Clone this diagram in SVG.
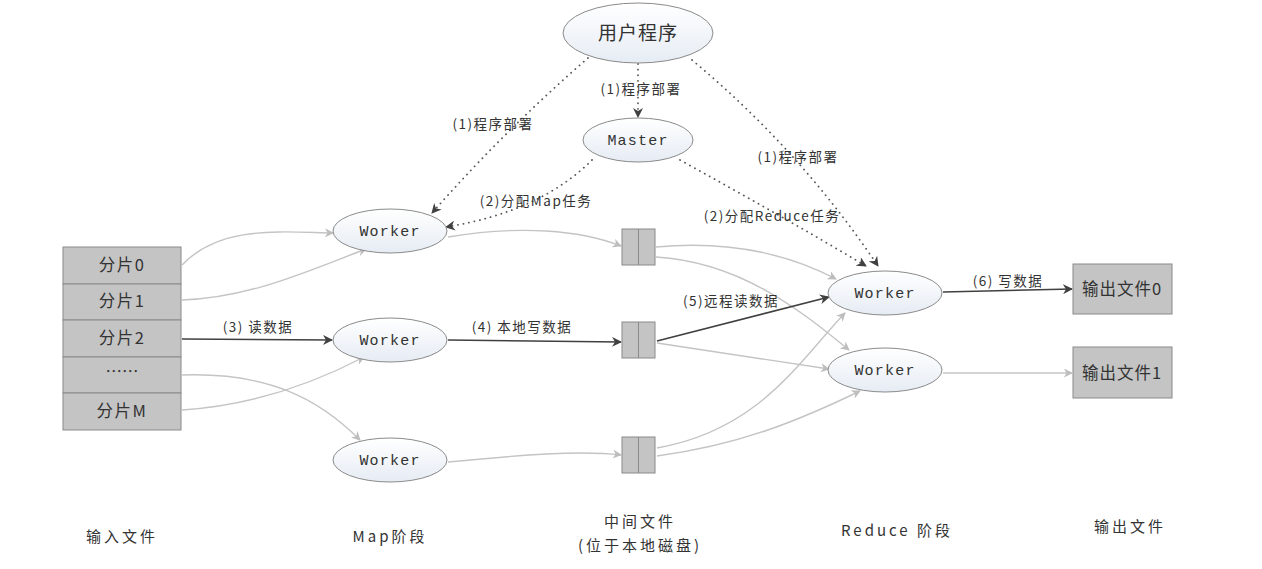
<svg xmlns="http://www.w3.org/2000/svg" width="1262" height="569" viewBox="0 0 1262 569">
<defs>
<linearGradient id="eg" x1="0" y1="0" x2="0" y2="1"><stop offset="0" stop-color="#ffffff"/><stop offset="1" stop-color="#e6ecf4"/></linearGradient>
<marker id="ag" viewBox="0 0 10 10" refX="9" refY="5" markerWidth="9" markerHeight="9" markerUnits="userSpaceOnUse" orient="auto"><path d="M0,0 L10,5 L0,10 L3,5 z" fill="#bdbdbd"/></marker>
<marker id="ad" viewBox="0 0 10 10" refX="9" refY="5" markerWidth="10" markerHeight="10" markerUnits="userSpaceOnUse" orient="auto"><path d="M0,0 L10,5 L0,10 L3,5 z" fill="#404040"/></marker>
<style>
.el{fill:url(#eg);stroke:#8a8a8a;stroke-width:1}
.bx{fill:#c4c4c4;stroke:#8a8a8a;stroke-width:1}
.t{font-family:"Noto Sans CJK SC","Noto Sans",sans-serif;fill:#333;text-anchor:middle}
.m{font-family:"Liberation Mono","DejaVu Sans Mono",monospace;fill:#333;text-anchor:middle;font-size:15px;letter-spacing:1.2px}
.lb{font-family:"Noto Sans CJK SC","Noto Sans",sans-serif;fill:#333;font-size:13.5px;letter-spacing:1.5px;text-anchor:middle}
.ft{font-family:"Noto Sans CJK SC","Noto Sans",sans-serif;fill:#333;font-size:15px;letter-spacing:3px;text-anchor:middle}
.g{fill:none;stroke:#c4c4c4;stroke-width:1.4;marker-end:url(#ag)}
.d{fill:none;stroke:#404040;stroke-width:1.6;marker-end:url(#ad)}
.dt{fill:none;stroke:#555;stroke-width:1.8;stroke-dasharray:0.1 5.5;stroke-linecap:round;marker-end:url(#ad)}
</style>
</defs>
<rect width="1262" height="569" fill="#ffffff"/>
<g id="connectors">
<path class="dt" d="M588,58 Q505,130 432,213"/>
<path class="dt" d="M638,64 L638,117"/>
<path class="dt" d="M692,60 Q800,150 878,266"/>
<path class="dt" d="M592,160 Q540,212 446,227"/>
<path class="dt" d="M680,160 Q780,215 866,266"/>
<path class="g" d="M182,265 C220,225 280,232 333,233"/>
<path class="g" d="M182,300 C250,298 310,270 366,249"/>
<path class="d" d="M182,339 L332,340"/>
<path class="g" d="M182,375 C270,372 320,400 360,440"/>
<path class="g" d="M182,410 C260,405 320,380 364,357"/>
<path class="g" d="M448,237 C520,225 580,230 621,246"/>
<path class="d" d="M448,340 L621,342"/>
<path class="g" d="M448,462 C520,455 580,450 621,455"/>
<path class="g" d="M656,247 C730,240 790,255 836,279"/>
<path class="g" d="M656,257 C740,262 800,310 849,350"/>
<path class="d" d="M657,341 L829,297"/>
<path class="g" d="M657,343 L829,369"/>
<path class="g" d="M657,448 C760,430 800,360 845,313"/>
<path class="g" d="M657,456 C740,445 800,420 860,391"/>
<path class="d" d="M943,292 L1072,289"/>
<path class="g" d="M943,373 L1072,373"/>
</g>
<g id="labels">
<text class="lb" x="493" y="129">(1)程序部署</text>
<text class="lb" x="641" y="94">(1)程序部署</text>
<text class="lb" x="798" y="162">(1)程序部署</text>
<text class="lb" x="536" y="206">(2)分配Map任务</text>
<text class="lb" x="772" y="221">(2)分配Reduce任务</text>
<text class="lb" x="258" y="332">(3)  读数据</text>
<text class="lb" x="522" y="332">(4)  本地写数据</text>
<text class="lb" x="731" y="306">(5)远程读数据</text>
<text class="lb" x="1008" y="286">(6)  写数据</text>
</g>
<g id="user"><ellipse class="el" cx="638" cy="33" rx="75" ry="30"/><text class="t" x="638" y="40" font-size="19" letter-spacing="1">用户程序</text></g>
<g id="master"><ellipse class="el" cx="638" cy="140" rx="55" ry="22"/><text class="m" x="638" y="145">Master</text></g>
<g id="input">
<rect class="bx" x="63" y="247" width="118" height="37"/><text class="t" x="122" y="271" font-size="16.5" letter-spacing="1.5">分片0</text>
<rect class="bx" x="63" y="284" width="118" height="36"/><text class="t" x="122" y="307" font-size="16.5" letter-spacing="1.5">分片1</text>
<rect class="bx" x="63" y="320" width="118" height="37"/><text class="t" x="122" y="344" font-size="16.5" letter-spacing="1.5">分片2</text>
<rect class="bx" x="63" y="357" width="118" height="36"/><text class="t" x="122" y="378" font-size="16.5">……</text>
<rect class="bx" x="63" y="393" width="118" height="37"/><text class="t" x="122" y="417" font-size="16.5" letter-spacing="1.5">分片M</text>
</g>
<g id="mw1"><ellipse class="el" cx="390" cy="231" rx="57" ry="22"/><text class="m" x="390" y="236">Worker</text></g>
<g id="mw2"><ellipse class="el" cx="390" cy="340" rx="57" ry="22"/><text class="m" x="390" y="345">Worker</text></g>
<g id="mw3"><ellipse class="el" cx="390" cy="460" rx="57" ry="22"/><text class="m" x="390" y="465">Worker</text></g>
<g id="f1"><rect class="bx" x="622" y="229" width="33" height="36"/><line x1="638.5" y1="229" x2="638.5" y2="265" stroke="#8a8a8a"/></g>
<g id="f2"><rect class="bx" x="622" y="322" width="33" height="36"/><line x1="638.5" y1="322" x2="638.5" y2="358" stroke="#8a8a8a"/></g>
<g id="f3"><rect class="bx" x="622" y="437" width="33" height="36"/><line x1="638.5" y1="437" x2="638.5" y2="473" stroke="#8a8a8a"/></g>
<g id="rw1"><ellipse class="el" cx="885" cy="293" rx="57" ry="22"/><text class="m" x="885" y="298">Worker</text></g>
<g id="rw2"><ellipse class="el" cx="885" cy="370" rx="57" ry="22"/><text class="m" x="885" y="375">Worker</text></g>
<g id="out0"><rect class="bx" x="1073" y="264" width="99" height="50"/><text class="t" x="1122" y="295" font-size="16.5" letter-spacing="1">输出文件0</text></g>
<g id="out1"><rect class="bx" x="1073" y="347" width="99" height="51"/><text class="t" x="1122" y="379" font-size="16.5" letter-spacing="1">输出文件1</text></g>
<g id="footer">
<text class="ft" x="122" y="542">输入文件</text>
<text class="ft" x="390" y="542">Map阶段</text>
<text class="ft" x="640" y="527">中间文件</text>
<text class="ft" x="640" y="551">(位于本地磁盘)</text>
<text class="ft" x="897" y="536">Reduce 阶段</text>
<text class="ft" x="1130" y="532">输出文件</text>
</g>
</svg>
